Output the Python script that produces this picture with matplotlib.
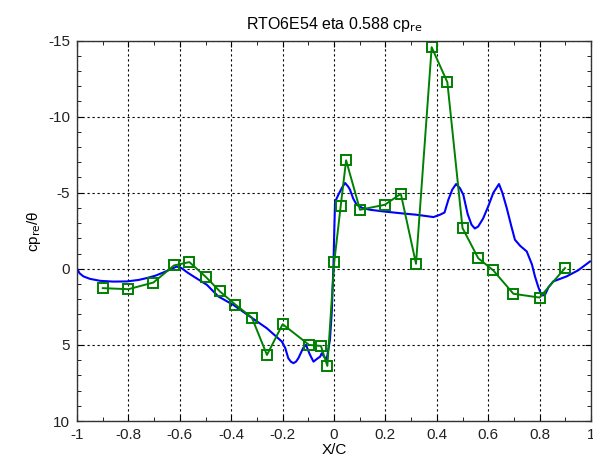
import matplotlib
matplotlib.use('Agg')
import matplotlib.pyplot as plt
from matplotlib.ticker import MultipleLocator, FuncFormatter

plt.rcParams['font.family'] = ['Liberation Sans', 'DejaVu Sans']

# measured (green squares)
x_meas = [-0.90, -0.80, -0.703, -0.623, -0.563, -0.498, -0.444, -0.384, -0.32, -0.261,
          -0.20, -0.097, -0.051, -0.026, 0.001, 0.026, 0.047, 0.101, 0.198, 0.26,
          0.319, 0.38, 0.441, 0.50, 0.561, 0.62, 0.698, 0.80, 0.899]
cp_meas = [1.27, 1.34, 0.90, -0.22, -0.44, 0.55, 1.49, 2.35, 3.20, 5.66,
           3.64, 5.00, 5.07, 6.38, -0.48, -4.14, -7.13, -3.88, -4.21, -4.93,
           -0.33, -14.56, -12.26, -2.68, -0.70, 0.11, 1.64, 1.89, -0.05]

# computed (blue curve)
x_calc = [-1.0, -0.99, -0.975, -0.95, -0.91, -0.86, -0.807, -0.76, -0.729, -0.695,
          -0.664, -0.635, -0.612, -0.593, -0.57, -0.547, -0.495, -0.45, -0.392, -0.327,
          -0.262, -0.203, -0.19, -0.178, -0.168, -0.158, -0.148, -0.139, -0.12, -0.109,
          -0.095, -0.08, -0.065, -0.054, -0.048, -0.029, -0.016, -0.009, -0.002, 0.001,
          0.004, 0.017, 0.03, 0.043, 0.055, 0.062, 0.075, 0.088, 0.11, 0.14,
          0.192, 0.26, 0.322, 0.387, 0.412, 0.43, 0.445, 0.46, 0.475, 0.49,
          0.503, 0.52, 0.535, 0.548, 0.561, 0.58, 0.60, 0.62, 0.642, 0.655,
          0.672, 0.69, 0.704, 0.725, 0.75, 0.77, 0.782, 0.795, 0.804, 0.812,
          0.821, 0.835, 0.853, 0.905, 0.95, 0.996]
cp_calc = [0.0, 0.30, 0.50, 0.66, 0.79, 0.84, 0.83, 0.73, 0.61, 0.45,
           0.24, 0.02, -0.15, -0.04, 0.25, 0.50, 1.05, 1.82, 2.37, 3.14,
           3.90, 4.78, 5.20, 5.88, 6.10, 6.20, 6.10, 5.88, 5.20, 5.00,
           5.60, 6.10, 5.90, 5.77, 5.55, 5.99, 4.67, 2.90, -0.38, -2.57,
           -4.40, -4.87, -5.30, -5.64, -5.40, -5.20, -4.60, -4.21, -4.00, -3.88,
           -3.77, -3.65, -3.55, -3.40, -3.55, -3.70, -4.54, -5.20, -5.57, -5.30,
           -4.87, -3.60, -2.90, -2.65, -2.78, -3.30, -4.10, -5.00, -5.57, -5.00,
           -4.00, -2.80, -1.91, -1.50, -1.14, -0.30, 0.50, 1.20, 1.60, 1.75,
           1.71, 1.20, 0.83, 0.50, 0.10, -0.48]

fig = plt.figure(figsize=(5.93, 4.63), dpi=100)
ax = fig.add_axes([0.130, 0.0907, 0.8666, 0.8218])

ax.plot(x_calc, cp_calc, color='#0000ff', linewidth=1.5)
ax.plot(x_meas, cp_meas, color='#008000', linewidth=1.4, marker='s', markersize=7.5,
        markerfacecolor='none', markeredgecolor='#008000', markeredgewidth=1.4)

ax.set_xlim(-1, 1)
ax.set_ylim(10, -15)
ax.xaxis.set_major_locator(MultipleLocator(0.2))
ax.xaxis.set_minor_locator(MultipleLocator(0.1))
ax.yaxis.set_major_locator(MultipleLocator(5))
ax.yaxis.set_minor_locator(MultipleLocator(1))
ax.xaxis.set_major_formatter(FuncFormatter(lambda v, p: f'{round(v, 1) + 0:g}'))
ax.yaxis.set_major_formatter(FuncFormatter(lambda v, p: f'{round(v) + 0:g}'))
ax.tick_params(which='both', direction='in', top=True, right=True, labelsize=11,
               labelcolor='#222222')
ax.tick_params(which='major', length=4, pad=5)
ax.tick_params(which='minor', length=3)
ax.grid(True, which='major', color='black', linestyle=(0, (2, 2.5)), linewidth=0.8)
for s in ax.spines.values():
    s.set_linewidth(1.0)
    s.set_color('#333333')

ax.set_title('RTO6E54 eta 0.588 cp$_{\\mathrm{re}}$', fontsize=11.5, pad=8)
ax.set_xlabel('X/C', fontsize=11, labelpad=1)
ax.set_ylabel('cp$_{\\mathrm{re}}$/θ', fontsize=11, labelpad=4)

fig.savefig('out.png', dpi=100)
